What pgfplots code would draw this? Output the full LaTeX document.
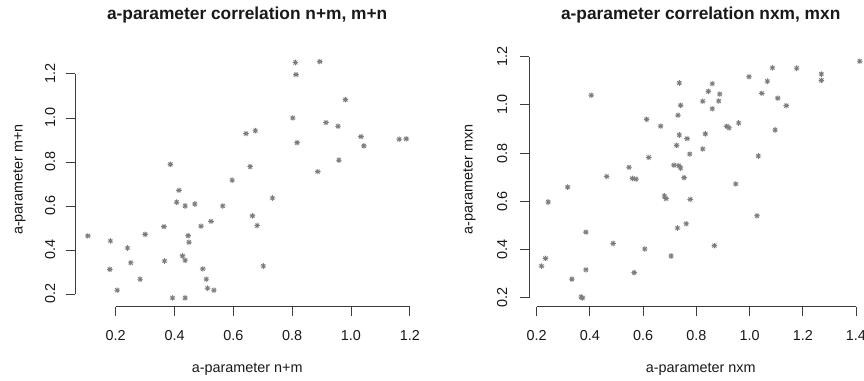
\documentclass[border=0pt]{standalone}
\usepackage{pgfplots}
\pgfplotsset{compat=1.18}
\usepackage{fontspec}
\setmainfont{Liberation Sans}
\definecolor{ptcol}{RGB}{125,125,125}
\definecolor{txtcol}{RGB}{25,25,25}
\definecolor{axc}{RGB}{60,60,60}
\pgfdeclareplotmark{rast}{%
  \pgfpathmoveto{\pgfqpoint{-\pgfplotmarksize}{0pt}}\pgfpathlineto{\pgfqpoint{\pgfplotmarksize}{0pt}}%
  \pgfpathmoveto{\pgfqpoint{0pt}{-\pgfplotmarksize}}\pgfpathlineto{\pgfqpoint{0pt}{\pgfplotmarksize}}%
  \pgfpathmoveto{\pgfqpoint{-.707\pgfplotmarksize}{-.707\pgfplotmarksize}}\pgfpathlineto{\pgfqpoint{.707\pgfplotmarksize}{.707\pgfplotmarksize}}%
  \pgfpathmoveto{\pgfqpoint{-.707\pgfplotmarksize}{.707\pgfplotmarksize}}\pgfpathlineto{\pgfqpoint{.707\pgfplotmarksize}{-.707\pgfplotmarksize}}%
  \pgfusepathqstroke}
\pgfdeclareplotmark{tkx}{\pgfpathmoveto{\pgfqpoint{0pt}{0pt}}\pgfpathlineto{\pgfqpoint{0pt}{-6.9pt}}\pgfusepathqstroke}
\pgfdeclareplotmark{tky}{\pgfpathmoveto{\pgfqpoint{0pt}{0pt}}\pgfpathlineto{\pgfqpoint{-6.9pt}{0pt}}\pgfusepathqstroke}
\pgfdeclareplotmark{lxa}{\pgfpathmoveto{\pgfqpoint{0pt}{0pt}}\pgfpathlineto{\pgfqpoint{220.5pt}{0pt}}\pgfusepathqstroke}
\pgfdeclareplotmark{lya}{\pgfpathmoveto{\pgfqpoint{0pt}{0pt}}\pgfpathlineto{\pgfqpoint{0pt}{165pt}}\pgfusepathqstroke}
\pgfdeclareplotmark{lxb}{\pgfpathmoveto{\pgfqpoint{0pt}{0pt}}\pgfpathlineto{\pgfqpoint{239.4pt}{0pt}}\pgfusepathqstroke}
\pgfdeclareplotmark{lyb}{\pgfpathmoveto{\pgfqpoint{0pt}{0pt}}\pgfpathlineto{\pgfqpoint{0pt}{180.7pt}}\pgfusepathqstroke}
\tikzset{ytl/.style={rotate=90, anchor=base, font=\fontsize{10.8}{12}\selectfont, text=txtcol, inner sep=0pt}}
\pgfplotsset{
  rstyle/.style={
    scale only axis, clip=false,
    axis x line*=bottom, axis y line*=left,
    x axis line style={draw=none}, y axis line style={draw=none},
    tick align=outside, major tick length=6.9pt,
    xtick style={draw=none}, ytick=\empty,
    tick label style={font=\fontsize{10.8}{12}\selectfont, text=txtcol,
      /pgf/number format/assume math mode=true,
      /pgf/number format/fixed, /pgf/number format/fixed zerofill,
      /pgf/number format/precision=1},
    label style={font=\fontsize{10.8}{12}\selectfont, text=txtcol},
    title style={font=\bfseries\fontsize{13}{15}\selectfont, text=txtcol,
      at={(rel axis cs:0.5,1)}, anchor=base, yshift=18.7pt},
    xticklabel style={anchor=base, yshift=-18.6pt},
    xlabel style={at={(rel axis cs:0.5,0)}, anchor=base, yshift=-49.5pt},
  },
  pts/.style={only marks, mark=rast, mark size=2.1pt, color=ptcol, line width=0.65pt},
  axm/.style={only marks, color=axc, line width=0.65pt, forget plot},
}
\begin{document}
\begin{tikzpicture}
\useasboundingbox (0,0) rectangle (648pt,285pt);
\begin{axis}[rstyle,
  at={(56.5pt,55pt)}, anchor=south west,
  width=257.8pt, height=190.9pt,
  xmin=0.0626, xmax=1.2316, ymin=0.1423, ymax=1.299,
  xtick={0.2,0.4,...,1.21},
  title={a-parameter correlation n+m, m+n},
  xlabel={a-parameter n+m},
  ylabel={a-parameter m+n},
  ylabel style={at={([xshift=-39.5pt]rel axis cs:0,0.5)}, anchor=base},
]
\addplot[axm, mark=lxa] coordinates {(0.2,0.1423)};
\addplot[axm, mark=lya] coordinates {(0.0626,0.2)};
\addplot[axm, mark=tkx] coordinates {(0.2,0.1423) (0.4,0.1423) (0.6,0.1423) (0.8,0.1423) (1.0,0.1423) (1.2,0.1423)};
\addplot[axm, mark=tky] coordinates {(0.0626,0.2) (0.0626,0.4) (0.0626,0.6) (0.0626,0.8) (0.0626,1.0) (0.0626,1.2)};
\node[ytl] at ([xshift=-15.2pt]axis cs:0.0626,0.2) {0.2};
\node[ytl] at ([xshift=-15.2pt]axis cs:0.0626,0.4) {0.4};
\node[ytl] at ([xshift=-15.2pt]axis cs:0.0626,0.6) {0.6};
\node[ytl] at ([xshift=-15.2pt]axis cs:0.0626,0.8) {0.8};
\node[ytl] at ([xshift=-15.2pt]axis cs:0.0626,1.0) {1.0};
\node[ytl] at ([xshift=-15.2pt]axis cs:0.0626,1.2) {1.2};
\addplot[pts] table {
x y
0.105 0.464
0.182 0.441
0.180 0.312
0.205 0.217
0.240 0.409
0.251 0.342
0.283 0.267
0.300 0.471
0.364 0.506
0.366 0.350
0.386 0.789
0.393 0.182
0.415 0.671
0.407 0.617
0.436 0.600
0.427 0.373
0.436 0.353
0.436 0.182
0.446 0.465
0.449 0.435
0.469 0.609
0.490 0.508
0.496 0.314
0.508 0.267
0.512 0.226
0.534 0.217
0.524 0.530
0.564 0.600
0.596 0.717
0.643 0.929
0.675 0.942
0.657 0.779
0.665 0.555
0.681 0.511
0.702 0.327
0.733 0.636
0.802 1.000
0.811 1.252
0.813 1.197
0.817 0.888
0.894 1.256
0.887 0.756
0.915 0.979
0.981 1.083
0.956 0.962
0.959 0.808
1.034 0.915
1.044 0.873
1.164 0.903
1.188 0.905
};
\end{axis}
\begin{axis}[rstyle,
  at={(396.75pt,55pt)}, anchor=south west,
  width=257.6pt, height=191pt,
  xmin=0.171, xmax=1.462, ymin=0.1627, ymax=1.2195,
  xtick={0.2,0.4,...,1.41},
  title={a-parameter correlation nxm, mxn},
  xlabel={a-parameter nxm},
  ylabel={a-parameter mxn},
  ylabel style={at={([xshift=-42.2pt]rel axis cs:0,0.5)}, anchor=base},
]
\addplot[axm, mark=lxb] coordinates {(0.2,0.1627)};
\addplot[axm, mark=lyb] coordinates {(0.171,0.2)};
\addplot[axm, mark=tkx] coordinates {(0.2,0.1627) (0.4,0.1627) (0.6,0.1627) (0.8,0.1627) (1.0,0.1627) (1.2,0.1627) (1.4,0.1627)};
\addplot[axm, mark=tky] coordinates {(0.171,0.2) (0.171,0.4) (0.171,0.6) (0.171,0.8) (0.171,1.0) (0.171,1.2)};
\node[ytl] at ([xshift=-16.5pt]axis cs:0.171,0.2) {0.2};
\node[ytl] at ([xshift=-16.5pt]axis cs:0.171,0.4) {0.4};
\node[ytl] at ([xshift=-16.5pt]axis cs:0.171,0.6) {0.6};
\node[ytl] at ([xshift=-16.5pt]axis cs:0.171,0.8) {0.8};
\node[ytl] at ([xshift=-16.5pt]axis cs:0.171,1.0) {1.0};
\node[ytl] at ([xshift=-16.5pt]axis cs:0.171,1.2) {1.2};
\addplot[pts] table {
x y
0.218 0.331
0.233 0.363
0.243 0.597
0.316 0.659
0.332 0.277
0.367 0.203
0.372 0.199
0.385 0.472
0.385 0.316
0.405 1.040
0.463 0.703
0.487 0.425
0.547 0.741
0.566 0.304
0.560 0.695
0.573 0.692
0.606 0.402
0.613 0.940
0.621 0.782
0.666 0.912
0.680 0.622
0.686 0.611
0.705 0.373
0.716 0.750
0.726 0.832
0.731 0.957
0.729 0.489
0.736 1.091
0.741 0.998
0.736 0.875
0.734 0.748
0.741 0.738
0.754 0.698
0.762 0.507
0.765 0.860
0.775 0.796
0.777 0.608
0.824 1.015
0.824 0.817
0.834 0.880
0.845 1.056
0.860 1.088
0.860 0.984
0.868 0.416
0.884 1.016
0.888 1.045
0.914 0.911
0.923 0.905
0.948 0.672
0.959 0.925
0.998 1.117
1.033 0.788
1.028 0.540
1.046 1.048
1.067 1.098
1.086 1.154
1.096 0.896
1.106 1.028
1.138 0.997
1.177 1.152
1.270 1.128
1.270 1.102
1.414 1.181
};
\end{axis}
\end{tikzpicture}
\end{document}
